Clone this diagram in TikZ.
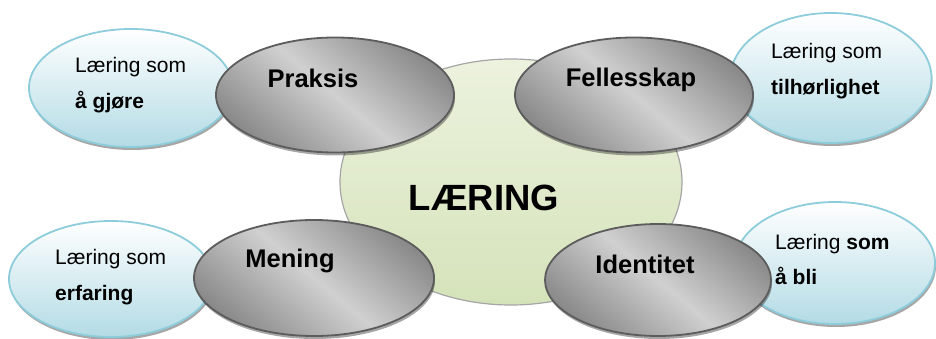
\documentclass[tikz,border=0pt]{standalone}
\usepackage{fontspec}
\setmainfont{Liberation Sans}
\usetikzlibrary{shapes.geometric, shadows, positioning}

\definecolor{kjernetop}{HTML}{ECF2DE}
\definecolor{kjernebot}{HTML}{D5E3BA}
\definecolor{kjernekant}{HTML}{A5A5A5}
\definecolor{gramork}{HTML}{8A8A8A}
\definecolor{gralys}{HTML}{D0D0D0}
\definecolor{grakant}{HTML}{5C5C5C}
\definecolor{blaatop}{HTML}{FFFFFF}
\definecolor{blaabot}{HTML}{B3DBE5}
\definecolor{blaakant}{HTML}{8DCDDB}

\tikzset{
  kjerne/.style={ellipse, draw=kjernekant, line width=1.2pt, top color=kjernetop,
    bottom color=kjernebot, minimum width=342pt, minimum height=246pt, inner sep=0pt},
  perspektiv/.style={ellipse, draw=grakant, line width=1.8pt, top color=gramork,
    bottom color=gramork, middle color=gralys, shading angle=-40, inner sep=0pt,
    minimum width=238pt, minimum height=115pt,
    drop shadow={shadow xshift=1pt, shadow yshift=-3pt, fill=black, opacity=.35}},
  boble/.style={ellipse, draw=blaakant, line width=1.8pt, top color=blaatop,
    bottom color=blaabot, inner sep=0pt, minimum width=204pt, minimum height=118pt,
    drop shadow={shadow xshift=1pt, shadow yshift=-3pt, fill=black, opacity=.35}},
  tittel/.style={font=\bfseries\fontsize{25.5}{30}\selectfont, inner sep=0pt},
  utsagn/.style={font=\fontsize{21}{36}\selectfont, align=left, anchor=west, inner sep=0pt}
}

\begin{document}
\begin{tikzpicture}[x=1pt, y=1pt, on grid]
  \useasboundingbox (0,0) rectangle (936,338);

  \node[kjerne] (laering) at (511,156) {};

  % bobler
  \node[boble] (boble1) [above left=94pt and 380pt of laering] {};
  \node[boble, minimum width=201pt, minimum height=130pt] (boble2) [above right=104pt and 320pt of laering] {};
  \node[boble, minimum height=116pt] (boble3) [below left=97pt and 400pt of laering] {};
  \node[boble, minimum width=200pt, minimum height=122pt] (boble4) [below right=81pt and 324pt of laering] {};

  % perspektiver
  \node[perspektiv] (praksis) [above left=87pt and 176pt of laering] {};
  \node[perspektiv] (fellesskap) [above right=87pt and 123pt of laering] {};
  \node[perspektiv, minimum width=240pt, minimum height=116pt] (mening) [below left=96pt and 197pt of laering] {};
  \node[perspektiv, minimum width=226pt, minimum height=112pt] (identitet) [below right=98pt and 147pt of laering] {};

  % tekst
  \node[font=\bfseries\fontsize{36.5}{40}\selectfont, inner sep=0pt] (laeringtxt) at ([shift={(-27pt,-16pt)}]laering.center) {LÆRING};
  \node[tittel] (praksistxt) at ([shift={(-22pt,17pt)}]praksis.center) {Praksis};
  \node[tittel] (fellesskaptxt) at ([shift={(-3pt,15pt)}]fellesskap.center) {Fellesskap};
  \node[tittel] (meningtxt) at ([shift={(-24pt,17pt)}]mening.center) {Mening};
  \node[tittel] (identitettxt) at ([shift={(-13pt,16pt)}]identitet.center) {Identitet};

  \node[utsagn] (boble1txt) at ([shift={(-56pt,3pt)}]boble1.center) {Læring som\\\textbf{å gjøre}};
  \node[utsagn] (boble2txt) at ([shift={(-60pt,6.5pt)}]boble2.center) {Læring som\\\textbf{tilhørlighet}};
  \node[utsagn] (boble3txt) at ([shift={(-56pt,2pt)}]boble3.center) {Læring som\\\textbf{erfaring}};
  \node[utsagn, font=\fontsize{21}{35}\selectfont] (boble4txt) at ([shift={(-60pt,3.5pt)}]boble4.center) {Læring \textbf{som}\\\textbf{å bli}};
\end{tikzpicture}
\end{document}
